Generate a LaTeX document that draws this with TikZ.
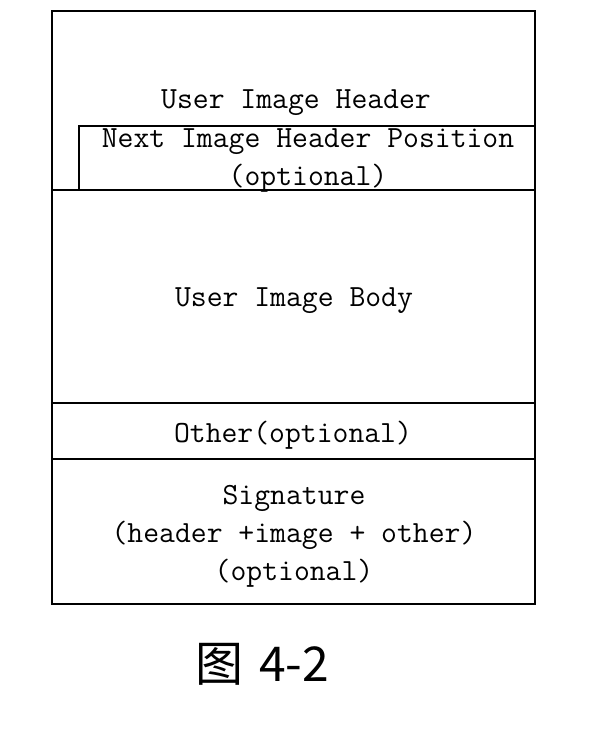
\documentclass[tikz,border=0pt]{standalone}
\usepackage{fontspec}
\newfontfamily\cjk{Noto Sans CJK SC}
\begin{document}
\begin{tikzpicture}[x=0.5pt,y=-0.5pt,
  box/.style={draw=black, line width=1.35pt, inner sep=0pt, outer sep=0pt, fill=none},
  txt/.style={inner sep=0pt, align=center, font=\ttfamily\fontsize{15.4}{19}\selectfont},
  captxt/.style={inner sep=0pt, font=\cjk\fontsize{24}{28}\selectfont}]
\useasboundingbox (0,0) rectangle (596,732);
\node[box, minimum width=241.5pt, minimum height=89.5pt] (hdr) at (293.5,100.5) {};
\node[box, minimum width=228pt, minimum height=32pt] (nxt) at (307,158) {};
\node[box, minimum width=241.5pt, minimum height=106.5pt] (body) at (293.5,296.5) {};
\node[box, minimum width=241.5pt, minimum height=28pt] (oth) at (293.5,431) {};
\node[box, minimum width=241.5pt, minimum height=72.5pt] (sig) at (293.5,531.5) {};
\node[txt] (hdrt) at (296,103) {User Image Header};
\node[txt] (nxtt) at (308,161) {Next Image Header Position\\(optional)};
\node[txt] (bodyt) at (294,301) {User Image Body};
\node[txt] (otht) at (293,435) {Other(optional)};
\node[txt] (sigt) at (294,536) {Signature\\(header +image + other)\\(optional)};
\node[captxt] (capt) at (262,664) {图\hspace{8pt}4-2};
\end{tikzpicture}
\end{document}
